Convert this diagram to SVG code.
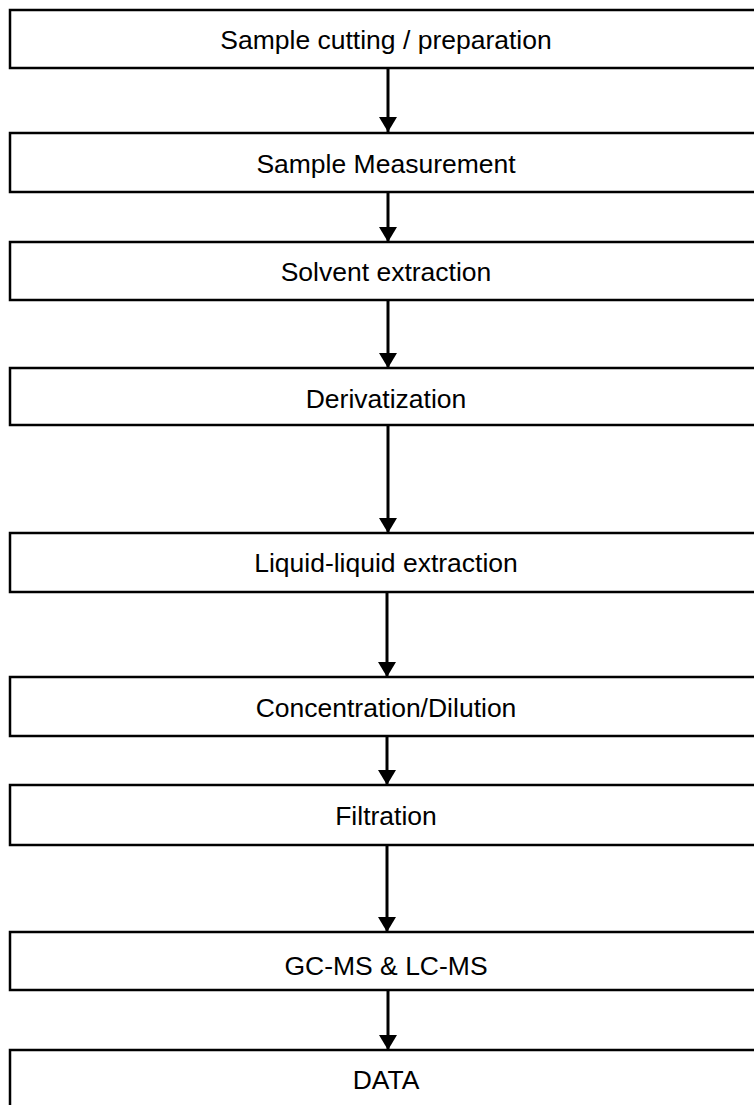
<svg xmlns="http://www.w3.org/2000/svg" width="754" height="1105" viewBox="0 0 754 1105">
<defs>
<style>
.box{fill:#fff;stroke:#000;stroke-width:2.5}
.lbl{font-family:"Liberation Sans",Arial,sans-serif;font-size:26.5px;fill:#000;text-anchor:middle;dominant-baseline:central}
.con{stroke:#000;stroke-width:3;fill:none}
</style>
<marker id="ah" markerUnits="userSpaceOnUse" markerWidth="16" markerHeight="20" refX="15" refY="9" orient="auto">
<path d="M0,0 L15,9 L0,18 Z" fill="#000"/>
</marker>
</defs>
<rect width="754" height="1105" fill="#fff"/>
<g id="connectors">
<line class="con" x1="388" y1="68" x2="388" y2="132" marker-end="url(#ah)"/>
<line class="con" x1="388" y1="192" x2="388" y2="242" marker-end="url(#ah)"/>
<line class="con" x1="388" y1="300" x2="388" y2="368" marker-end="url(#ah)"/>
<line class="con" x1="388" y1="425" x2="388" y2="533" marker-end="url(#ah)"/>
<line class="con" x1="387" y1="592" x2="387" y2="677" marker-end="url(#ah)"/>
<line class="con" x1="387" y1="736" x2="387" y2="785" marker-end="url(#ah)"/>
<line class="con" x1="387" y1="845" x2="387" y2="932" marker-end="url(#ah)"/>
<line class="con" x1="388" y1="990" x2="388" y2="1050" marker-end="url(#ah)"/>
</g>
<g id="n1"><rect class="box" x="10" y="10" width="760" height="58"/><text class="lbl" x="386" y="40">Sample cutting / preparation</text></g>
<g id="n2"><rect class="box" x="10" y="133" width="760" height="59"/><text class="lbl" x="386" y="164">Sample Measurement</text></g>
<g id="n3"><rect class="box" x="10" y="242" width="760" height="58"/><text class="lbl" x="386" y="272">Solvent extraction</text></g>
<g id="n4"><rect class="box" x="10" y="368" width="760" height="57"/><text class="lbl" x="386" y="399">Derivatization</text></g>
<g id="n5"><rect class="box" x="10" y="533" width="760" height="59"/><text class="lbl" x="386" y="563">Liquid-liquid extraction</text></g>
<g id="n6"><rect class="box" x="10" y="677" width="760" height="59"/><text class="lbl" x="386" y="708">Concentration/Dilution</text></g>
<g id="n7"><rect class="box" x="10" y="785" width="760" height="60"/><text class="lbl" x="386" y="816">Filtration</text></g>
<g id="n8"><rect class="box" x="10" y="932" width="760" height="58"/><text class="lbl" x="386" y="966">GC-MS &amp; LC-MS</text></g>
<g id="n9"><rect class="box" x="10" y="1050" width="760" height="80"/><text class="lbl" x="386" y="1080">DATA</text></g>
</svg>
